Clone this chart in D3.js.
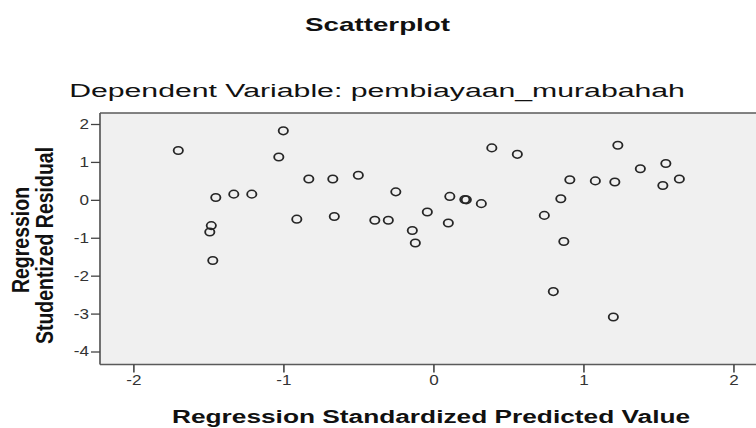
<!DOCTYPE html>
<html>
<head>
<meta charset="utf-8">
<script src="https://cdn.jsdelivr.net/npm/d3@7"></script>
<style>
  html, body { margin: 0; padding: 0; background: #ffffff; }
  svg { display: block; }
  text { font-family: "Liberation Sans", Arial, sans-serif; }
</style>
</head>
<body>
<div id="chart"></div>
<script>
// ---- data ----
const predicted = [-1.70, -1.00, -1.03, -0.83, -0.67, -0.50, -0.25, -1.45, -1.33, -1.21,
                   -1.48, -1.49, -1.47, -0.91, -0.66, -0.39, -0.30, -0.14, -0.12, 0.39,
                    0.56, 1.23, 1.38, 1.55, 1.64, 1.53, 0.91, 1.08, 1.21, 0.85,
                    0.74, 0.87, 0.11, 0.21, 0.22, 0.32, -0.04, 0.10, 0.80, 1.20];
const residual  = [ 1.30, 1.82, 1.13, 0.55, 0.55, 0.65, 0.21, 0.06, 0.15, 0.15,
                   -0.68, -0.85, -1.60, -0.51, -0.44, -0.54, -0.54, -0.81, -1.14, 1.37,
                    1.20, 1.44, 0.82, 0.96, 0.55, 0.38, 0.53, 0.50, 0.47, 0.03,
                   -0.41, -1.10, 0.09, 0.01, 0.00, -0.10, -0.32, -0.61, -2.42, -3.09];
const xTicks = [-2, -1, 0, 1, 2];
const yTicks = [2, 1, 0, -1, -2, -3, -4];
const title = "Scatterplot";
const subtitle = "Dependent Variable: pembiayaan_murabahah";
const xTitle = "Regression Standardized Predicted Value";
const yTitle1 = "Regression";
const yTitle2 = "Studentized Residual";

// ---- layout (inner coordinates, stretched horizontally to 756 px) ----
const W = 756, H = 428;
const K = 1.2194;              // horizontal stretch of the original picture
const IW = W / K;              // inner width
const frame = { left: 82.0, top: 113, bottom: 364.5, right: IW + 10 };

const x = d3.scaleLinear().domain([-2, 2]).range([109.3, 601.4]);
const y = d3.scaleLinear().domain([2, -4]).range([124, 351.5]);

const svg = d3.select("#chart").append("svg")
  .attr("width", W).attr("height", H)
  .attr("viewBox", `0 0 ${IW} ${H}`)
  .attr("preserveAspectRatio", "none");

// plot background
svg.append("rect")
  .attr("x", frame.left).attr("y", frame.top)
  .attr("width", frame.right - frame.left).attr("height", frame.bottom - frame.top)
  .attr("fill", "#f0f0f0");

// points
svg.append("g").selectAll("circle")
  .data(predicted.map((p, i) => [p, residual[i]]))
  .join("circle")
  .attr("cx", d => x(d[0]))
  .attr("cy", d => y(d[1]))
  .attr("r", 3.8)
  .attr("fill", "none")
  .attr("stroke", "#262626")
  .attr("stroke-width", 1.5);

// frame lines
svg.append("line")
  .attr("x1", frame.left).attr("x2", frame.right)
  .attr("y1", frame.top).attr("y2", frame.top)
  .attr("stroke", "#5a5a5a").attr("stroke-width", 1.6);
svg.append("line")
  .attr("x1", frame.left).attr("x2", frame.right)
  .attr("y1", frame.bottom).attr("y2", frame.bottom)
  .attr("stroke", "#5a5a5a").attr("stroke-width", 1.6);
svg.append("line")
  .attr("x1", frame.left).attr("x2", frame.left)
  .attr("y1", frame.top).attr("y2", frame.bottom)
  .attr("stroke", "#5a5a5a").attr("stroke-width", 1.4);

const fmt = d => String(d);   // plain hyphen minus, as in the reference

// y axis
const yAxis = d3.axisLeft(y).tickValues(yTicks).tickSize(7.4).tickPadding(1.6).tickFormat(fmt);
const gy = svg.append("g").attr("transform", `translate(${frame.left},0)`).call(yAxis);
gy.select(".domain").remove();
gy.selectAll(".tick line").attr("stroke", "#444").attr("stroke-width", 1.3);
gy.selectAll(".tick text").attr("fill", "#333").attr("font-size", 14)
  .attr("font-family", "Liberation Sans, Arial, sans-serif");

// x axis
const xAxis = d3.axisBottom(x).tickValues(xTicks).tickSize(8).tickPadding(3).tickFormat(fmt);
const gx = svg.append("g").attr("transform", `translate(0,${frame.bottom})`).call(xAxis);
gx.select(".domain").remove();
gx.selectAll(".tick line").attr("stroke", "#444").attr("stroke-width", 1.3);
gx.selectAll(".tick text").attr("fill", "#333").attr("font-size", 14)
  .attr("font-family", "Liberation Sans, Arial, sans-serif");

// titles
svg.append("text")
  .attr("x", 309.6).attr("y", 31)
  .attr("text-anchor", "middle")
  .attr("font-size", 18).attr("font-weight", "bold").attr("fill", "#111")
  .attr("textLength", 119).attr("lengthAdjust", "spacingAndGlyphs")
  .text(title);

svg.append("text")
  .attr("x", 309.2).attr("y", 97)
  .attr("text-anchor", "middle")
  .attr("font-size", 19).attr("fill", "#111")
  .attr("textLength", 505).attr("lengthAdjust", "spacingAndGlyphs")
  .text(subtitle);

svg.append("text")
  .attr("x", 353.5).attr("y", 423)
  .attr("text-anchor", "middle")
  .attr("font-size", 19).attr("font-weight", "bold").attr("fill", "#111")
  .attr("textLength", 425).attr("lengthAdjust", "spacingAndGlyphs")
  .text(xTitle);

svg.append("text")
  .attr("transform", `translate(23.8,240) rotate(-90)`)
  .attr("text-anchor", "middle")
  .attr("font-size", 19.5).attr("font-weight", "bold").attr("fill", "#111")
  .text(yTitle1);

svg.append("text")
  .attr("transform", `translate(43.5,245.5) rotate(-90)`)
  .attr("text-anchor", "middle")
  .attr("font-size", 19.5).attr("font-weight", "bold").attr("fill", "#111")
  .text(yTitle2);
</script>
</body>
</html>
